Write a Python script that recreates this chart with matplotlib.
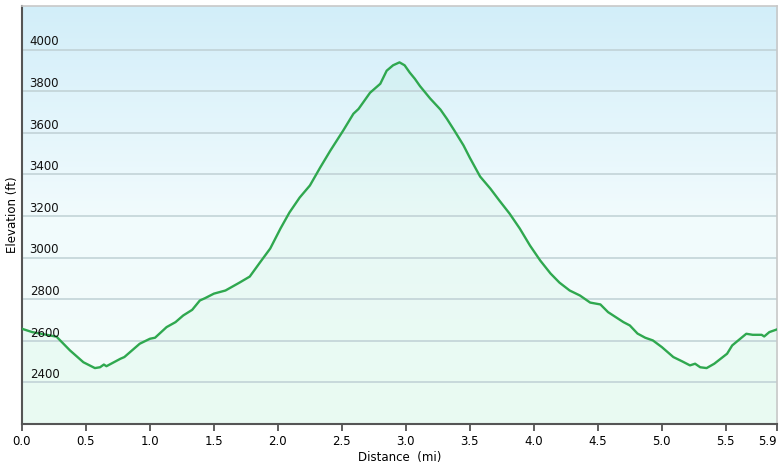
import numpy as np
import matplotlib.pyplot as plt
from matplotlib.colors import LinearSegmentedColormap

# elevation profile
dist = [0.00, 0.08, 0.27, 0.375, 0.48, 0.57, 0.61, 0.64, 0.66, 0.77, 0.80, 0.92,
        1.00, 1.04, 1.13, 1.20, 1.26, 1.33, 1.39, 1.43, 1.50, 1.59, 1.70, 1.78,
        1.86, 1.94, 2.02, 2.09, 2.17, 2.25, 2.33, 2.41, 2.51, 2.59, 2.63, 2.72,
        2.80, 2.85, 2.90, 2.95, 2.99, 3.03, 3.07, 3.11, 3.19, 3.27, 3.32, 3.38,
        3.45, 3.50, 3.58, 3.66, 3.73, 3.81, 3.89, 3.97, 4.05, 4.13, 4.20, 4.28,
        4.36, 4.44, 4.52, 4.58, 4.70, 4.75, 4.81, 4.87, 4.93, 5.00, 5.09, 5.16,
        5.22, 5.26, 5.30, 5.35, 5.41, 5.51, 5.55, 5.66, 5.71, 5.78, 5.80, 5.84,
        5.90]
elev = [2658, 2642, 2620, 2554, 2497, 2469, 2473, 2486, 2478, 2514, 2522, 2586,
        2610, 2615, 2666, 2690, 2722, 2749, 2794, 2805, 2827, 2842, 2880, 2909,
        2977, 3044, 3140, 3217, 3289, 3347, 3433, 3515, 3611, 3692, 3715, 3793,
        3836, 3899, 3925, 3939, 3925, 3890, 3860, 3825, 3765, 3712, 3668, 3610,
        3540, 3480, 3390, 3332, 3275, 3212, 3140, 3058, 2986, 2924, 2880, 2842,
        2818, 2784, 2775, 2738, 2690, 2674, 2635, 2615, 2602, 2570, 2522, 2501,
        2482, 2490, 2473, 2469, 2490, 2538, 2578, 2634, 2629, 2629, 2621, 2642,
        2655]

y_ticks = [2400, 2600, 2800, 3000, 3200, 3400, 3600, 3800, 4000]
x_ticks = [0.0, 0.5, 1.0, 1.5, 2.0, 2.5, 3.0, 3.5, 4.0, 4.5, 5.0, 5.5, 5.9]
x_labels = ["0.0", "0.5", "1.0", "1.5", "2.0", "2.5", "3.0", "3.5", "4.0",
            "4.5", "5.0", "5.5", "5.9"]

xmin, xmax = 0.0, 5.9
ymin, ymax = 2200, 4210

fig = plt.figure(figsize=(7.82, 4.69), dpi=100)
ax = fig.add_axes([0.0281, 0.0959, 0.9655, 0.8913])

# background gradient: light blue at top, almost white near the bottom
bg = LinearSegmentedColormap.from_list("bg", ["#f4fdf9", "#f1fbfd", "#d2eef9"])
grad = np.linspace(0, 1, 256).reshape(-1, 1)
ax.imshow(grad, cmap=bg, origin="lower", aspect="auto",
          extent=[xmin, xmax, ymin, ymax], zorder=0)

# faint green area under the profile
ax.fill_between(dist, elev, ymin, color="#4fe08a", alpha=0.055, lw=0, zorder=1)

for t in y_ticks:
    ax.axhline(t, color="#bfd0d4", lw=1.1, zorder=2)
    ax.text(0.06, t + 6, str(t), fontsize=8.5, color="#111111",
            ha="left", va="bottom", zorder=4)

ax.plot(dist, elev, color="#2fa84f", lw=1.7, zorder=3)

ax.set_xlim(xmin, xmax)
ax.set_ylim(ymin, ymax)
ax.set_yticks([])
ax.set_xticks(x_ticks)
ax.set_xticklabels(x_labels, fontsize=8.5)
ax.get_xticklabels()[-1].set_ha("right")
ax.tick_params(axis="x", direction="out", length=5, width=1.2,
               color="#444444", pad=3)

for s in ["left", "bottom"]:
    ax.spines[s].set_color("#555555")
    ax.spines[s].set_linewidth(1.5)
for s in ["top", "right"]:
    ax.spines[s].set_color("#c8c8c8")
    ax.spines[s].set_linewidth(1.2)

ax.set_xlabel("Distance  (mi)", fontsize=8.5, labelpad=2)
ax.set_ylabel("Elevation (ft)", fontsize=8.5, labelpad=2)

fig.savefig("out.png", dpi=100)
